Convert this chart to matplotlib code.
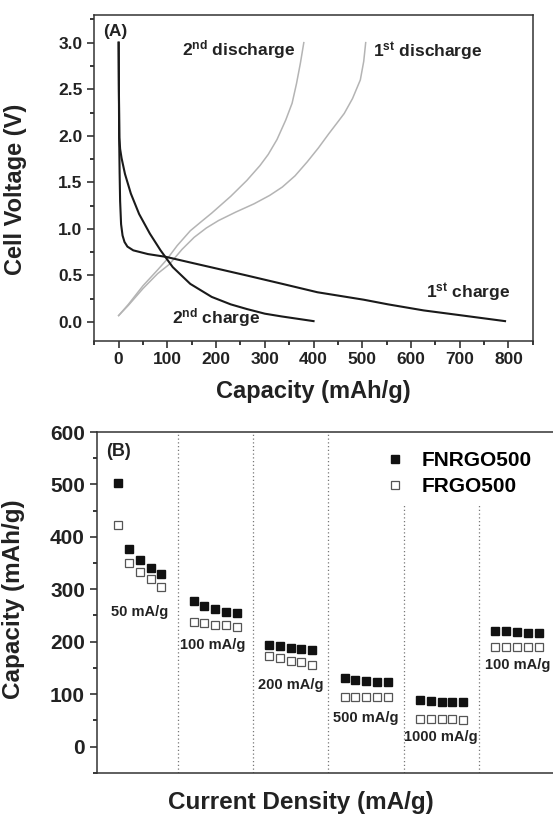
import matplotlib
matplotlib.use("Agg")
import matplotlib.pyplot as plt
import numpy as np

plt.rcParams['font.family'] = ['Liberation Sans', 'DejaVu Sans']
plt.rcParams['font.weight'] = 'bold'
plt.rcParams['mathtext.fontset'] = 'custom'
plt.rcParams['mathtext.rm'] = 'Liberation Sans:bold'
plt.rcParams['mathtext.it'] = 'Liberation Sans:bold'
plt.rcParams['mathtext.bf'] = 'Liberation Sans:bold'
plt.rcParams['mathtext.default'] = 'rm'

# (A) charge / discharge profiles
charge1_x = [0, 0.5, 1, 2, 3, 5, 8, 12, 18, 30, 60, 97, 155, 205, 263, 336, 408, 503, 553, 626, 699, 793]
charge1_y = [3.0, 2.5, 2.0, 1.6, 1.3, 1.05, 0.93, 0.86, 0.81, 0.77, 0.73, 0.70, 0.63, 0.57, 0.50, 0.41, 0.32, 0.24, 0.19, 0.125, 0.075, 0.01]
charge2_x = [0, 0.5, 1.5, 3, 6, 13, 25, 42, 64, 86, 111, 147, 191, 230, 263, 300, 335, 400]
charge2_y = [3.0, 2.5, 1.98, 1.86, 1.76, 1.59, 1.38, 1.16, 0.95, 0.77, 0.59, 0.41, 0.27, 0.19, 0.14, 0.09, 0.06, 0.01]
disch1_x = [0, 20, 50, 80, 104, 130, 155, 180, 205, 240, 278, 310, 336, 362, 387, 410, 431, 450, 463, 480, 496, 503, 507]
disch1_y = [0.07, 0.18, 0.36, 0.52, 0.62, 0.78, 0.91, 1.01, 1.09, 1.18, 1.27, 1.36, 1.45, 1.57, 1.72, 1.87, 2.02, 2.15, 2.24, 2.40, 2.60, 2.80, 3.0]
disch2_x = [0, 20, 50, 80, 97, 120, 147, 170, 191, 230, 263, 290, 307, 325, 343, 356, 365, 373, 380]
disch2_y = [0.07, 0.19, 0.39, 0.56, 0.66, 0.82, 0.98, 1.08, 1.17, 1.35, 1.52, 1.68, 1.80, 1.96, 2.17, 2.35, 2.56, 2.78, 3.0]

# (B) rate capability, five cycles per current density
cycles = [1, 2, 3, 4, 5, 8, 9, 10, 11, 12, 15, 16, 17, 18, 19,
          22, 23, 24, 25, 26, 29, 30, 31, 32, 33, 36, 37, 38, 39, 40]
fnrgo = [502, 376, 355, 340, 329, 277, 268, 262, 257, 254, 194, 191, 188, 186, 184,
         131, 126, 125, 124, 124, 88, 86, 85, 85, 84, 221, 221, 219, 217, 217]
frgo = [423, 350, 333, 320, 304, 238, 235, 231, 231, 228, 173, 169, 163, 162, 156,
        94, 94, 94, 94, 94, 53, 53, 53, 53, 50, 190, 190, 190, 190, 190]
rates = ['50 mA/g', '100 mA/g', '200 mA/g', '500 mA/g', '1000 mA/g', '100 mA/g']
rate_x = [3.0, 9.8, 17.0, 24.0, 30.9, 38.1]
rate_y = [256, 193, 118, 55, 18, 155]
dividers = [6.5, 13.5, 20.5, 27.5, 34.5]
divider_top = [600, 600, 600, 460, 460]

fig = plt.figure(figsize=(5.53, 8.17), dpi=100)

ax1 = fig.add_axes([0.1705, 0.583, 0.793, 0.399])
ax1.plot(disch1_x, disch1_y, color='#b4b4b4', lw=1.1)
ax1.plot(disch2_x, disch2_y, color='#b4b4b4', lw=1.1)
ax1.plot(charge1_x, charge1_y, color='#1a1a1a', lw=1.5)
ax1.plot(charge2_x, charge2_y, color='#1a1a1a', lw=1.5)
ax1.set_xlim(-50, 850)
ax1.set_ylim(-0.2, 3.3)
ax1.set_xticks(np.arange(0, 801, 100))
ax1.set_xticks(np.arange(-50, 851, 50), minor=True)
ax1.set_yticks(np.arange(0, 3.01, 0.5))
ax1.set_yticks(np.arange(0, 3.3, 0.25), minor=True)
ax1.set_yticklabels(['%.1f' % v for v in np.arange(0, 3.01, 0.5)])
ax1.tick_params(which='major', direction='out', length=5, width=1.1, labelsize=12.5, colors='#222222')
ax1.tick_params(which='minor', direction='out', length=3, width=1.1)
for s in ax1.spines.values():
    s.set_linewidth(1.1)
    s.set_color('#333333')
ax1.set_xlabel('Capacity (mAh/g)', fontsize=17, fontweight='bold', color='#222222')
ax1.set_ylabel('Cell Voltage (V)', fontsize=17, fontweight='bold', color='#222222')
ax1.xaxis.set_label_coords(0.5, -0.12)
ax1.yaxis.set_label_coords(-0.154, 0.465)
ax1.text(-32, 3.115, '(A)', fontsize=12.5, fontweight='bold', va='center', color='#222222')
ax1.text(129, 2.93, r'2$^{nd}$ discharge', fontsize=12.5, va='center', color='#222222')
ax1.text(523, 2.90, r'1$^{st}$ discharge', fontsize=12.5, va='center', color='#222222')
ax1.text(630, 0.31, r'1$^{st}$ charge', fontsize=12.5, va='center', color='#222222')
ax1.text(109, 0.05, r'2$^{nd}$ charge', fontsize=12.5, va='center', color='#222222')

ax2 = fig.add_axes([0.1749, 0.0542, 0.838, 0.417])
for xd, top in zip(dividers, divider_top):
    ax2.plot([xd, xd], [-50, top], color='#777777', lw=0.9, ls=(0, (1, 2)))
ax2.plot(cycles, fnrgo, ls='none', marker='s', ms=5.3, mfc='#111111', mec='#111111',
         label='FNRGO500')
ax2.plot(cycles, frgo, ls='none', marker='s', ms=5.4, mfc='white', mec='#555555',
         mew=0.9, label='FRGO500')
for lab, xr, yr in zip(rates, rate_x, rate_y):
    ax2.text(xr, yr, lab, fontsize=10.5, fontweight='bold', ha='center', va='center',
             color='#222222')
ax2.set_xlim(-1, 42)
ax2.set_ylim(-50, 600)
ax2.set_xticks([])
ax2.set_yticks(np.arange(0, 601, 100))
ax2.set_yticks(np.arange(-50, 601, 50), minor=True)
ax2.tick_params(which='major', direction='out', length=5, width=1.1, labelsize=15, colors='#222222')
ax2.tick_params(which='minor', direction='out', length=3, width=1.1)
for s in ax2.spines.values():
    s.set_linewidth(1.1)
    s.set_color('#333333')
ax2.set_xlabel('Current Density (mA/g)', fontsize=17.5, fontweight='bold', color='#222222')
ax2.set_ylabel('Capacity (mAh/g)', fontsize=17.5, fontweight='bold', color='#222222')
ax2.xaxis.set_label_coords(0.44, -0.055)
ax2.yaxis.set_label_coords(-0.155, 0.51)
ax2.text(-0.1, 562, '(B)', fontsize=13, fontweight='bold', va='center', color='#222222')
ax2.legend(loc='upper left', bbox_to_anchor=(0.621, 0.943), frameon=False, fontsize=15,
           handlelength=1, handletextpad=0.8, labelspacing=0.33, borderpad=0,
           borderaxespad=0, numpoints=1, prop={'weight': 'bold', 'size': 15})

fig.savefig('out.png', dpi=100)
